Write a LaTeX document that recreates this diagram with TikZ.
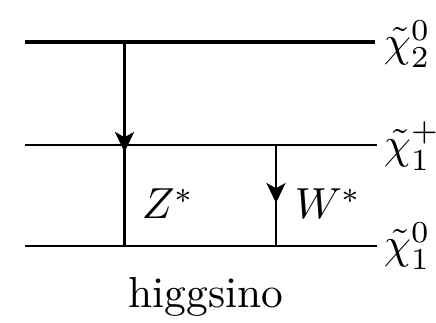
\documentclass[tikz,border=0pt]{standalone}
\usetikzlibrary{arrows.meta}
\begin{document}
\begin{tikzpicture}[x=0.23pt,y=-0.23pt,
  level/.style={line width=0.55pt},
  toplevel/.style={line width=0.8pt},
  decay/.style={line width=0.5pt},
  tip/.style={-{Stealth[length=4.6pt,width=4.4pt,inset=1.2pt]}, line width=0.5pt},
  lab/.style={anchor=west, inner sep=0pt}]
\useasboundingbox (0,0) rectangle (436,322);
% levels
\coordinate (t0) at (25,42);   \coordinate (t1) at (375,42);
\coordinate (m0) at (25,145);  \coordinate (m1) at (377,145);
\coordinate (b0) at (25,246);  \coordinate (b1) at (377,246);
\draw[toplevel] (t0) -- (t1);
\draw[level] (m0) -- (m1);
\draw[level] (b0) -- (b1);
\node[lab] (n2) at (383,44) {$\tilde\chi^0_2$};
\node[lab] (c1) at (383,146) {$\tilde\chi^+_1$};
\node[lab] (n1) at (383,246) {$\tilde\chi^0_1$};
% decays
\coordinate (za) at (124.5,42);  \coordinate (zt) at (124.5,152); \coordinate (zb) at (124.5,246);
\coordinate (wa) at (276,145);   \coordinate (wt) at (276,203);   \coordinate (wb) at (276,246);
\draw[decay] (za) -- (zb);
\draw[tip] (za) -- (zt);
\draw[decay] (wa) -- (wb);
\draw[tip] (wa) -- (wt);
\node[lab] (z) at (141,204) {$Z^*$};
\node[lab] (w) at (294,204) {$W^*$};
\node (h) at (206,297) {higgsino};
\end{tikzpicture}
\end{document}
